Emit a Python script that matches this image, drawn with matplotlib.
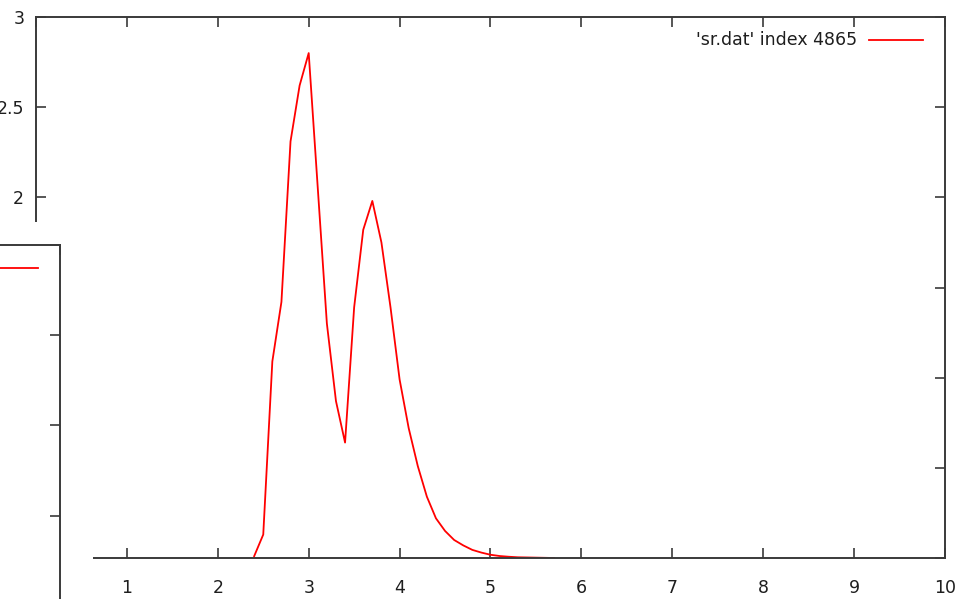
import matplotlib
matplotlib.use("Agg")
import matplotlib.pyplot as plt
from matplotlib.patches import Rectangle
from matplotlib.ticker import FormatStrFormatter

# radial distribution from sr.dat, block 4865
r = [2.4, 2.5, 2.6, 2.7, 2.8, 2.9, 3.0, 3.1, 3.2, 3.3, 3.4, 3.5, 3.6, 3.7,
     3.8, 3.9, 4.0, 4.1, 4.2, 4.3, 4.4, 4.5, 4.6, 4.7, 4.8, 4.9, 5.0,
     5.1, 5.2, 5.3, 5.4, 5.5, 5.6, 5.7]
g = [0.01, 0.13, 1.09, 1.42, 2.31, 2.62, 2.80, 2.05, 1.30, 0.87, 0.64, 1.39,
     1.82, 1.98, 1.75, 1.39, 0.99, 0.72, 0.51, 0.34, 0.22, 0.15, 0.10, 0.07,
     0.045, 0.03, 0.018, 0.011, 0.007, 0.004, 0.003, 0.002, 0.001, 0.0]
series_label = "'sr.dat' index 4865"

x_ticks = [0, 1, 2, 3, 4, 5, 6, 7, 8, 9, 10]
y_ticks = [0, 0.5, 1, 1.5, 2, 2.5, 3]

W, H = 961, 599
FONT = "DejaVu Sans"
FS = 12.5
TXT = "#1e1e1e"
BORDER = "#3a3a3a"
plt.rcParams["font.family"] = [FONT]

fig = plt.figure(figsize=(W / 100, H / 100), dpi=100)
fig.patch.set_facecolor("white")


def px_axes(left, top, right, bottom):
    return fig.add_axes([left / W, 1 - bottom / H, (right - left) / W, (bottom - top) / H])


def style(ax):
    for s in ax.spines.values():
        s.set_color(BORDER)
        s.set_linewidth(1.4)
    ax.tick_params(direction="in", top=True, right=True, length=7.5, width=1.2,
                   color=BORDER, labelcolor=TXT, labelsize=FS)
    ax.tick_params(axis="x", pad=15)
    ax.tick_params(axis="y", pad=8.5)


def key_line(ax):
    # gnuplot-style key sample line in the upper right corner
    ax.plot([0.9164, 0.9758], [0.9575, 0.9575], color="red", lw=1.3,
            transform=ax.transAxes, clip_on=False)


# main plot window
ax = px_axes(36, 17, 945, 558)
ax.set_zorder(0)
ax.plot(r, g, color="red", lw=1.3)
ax.set_xlim(0, 10)
ax.set_ylim(0, 3)
ax.set_xticks(x_ticks)
ax.set_yticks(y_ticks)
ax.yaxis.set_major_formatter(FormatStrFormatter("%g"))
style(ax)
key_line(ax)
ax.text(0.9032, 0.9575, series_label, transform=ax.transAxes, ha="right",
        va="center", fontsize=FS, color=TXT)

# another plot window lying over the lower-left corner
cover = Rectangle((0, 0), 93 / W, 1 - 222 / H, transform=fig.transFigure,
                  facecolor="white", edgecolor="none", zorder=1)
fig.patches.append(cover)

# labels that sit under the overlapping window are not drawn
fig.canvas.draw()
for lab in ax.get_xticklabels():
    if lab.get_position()[0] < 0.5:
        lab.set_visible(False)
for lab in ax.get_yticklabels():
    if lab.get_position()[1] < 1.75:
        lab.set_visible(False)

ax2 = px_axes(60 - 909, 245, 60, 245 + 541)
ax2.set_zorder(2)
ax2.set_xlim(0, 10)
ax2.set_ylim(3 - 541 / 186, 3)
ax2.set_xticks(x_ticks)
ax2.set_yticks(y_ticks)
ax2.set_xticklabels([])
ax2.set_yticklabels([])
style(ax2)
key_line(ax2)

fig.savefig("out.png", dpi=100, facecolor="white")
